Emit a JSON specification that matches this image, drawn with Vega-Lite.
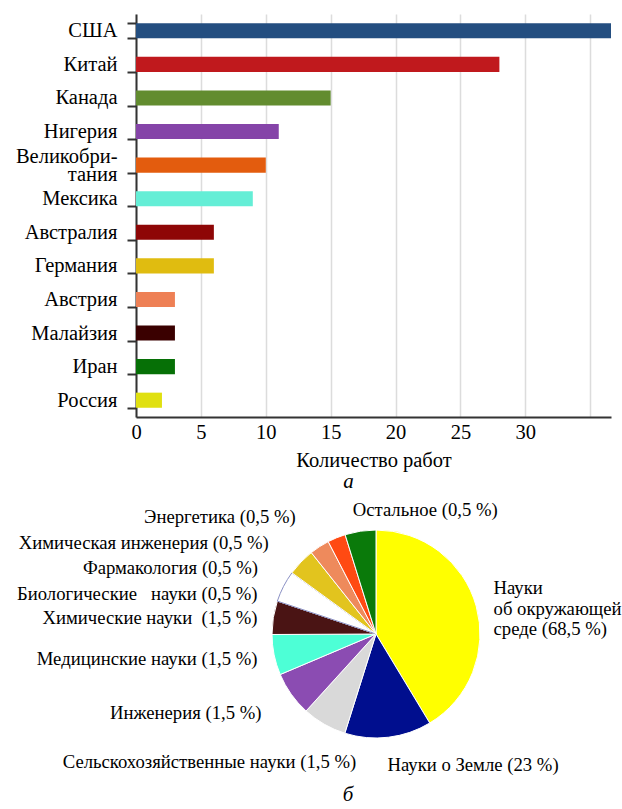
{
  "$schema": "https://vega.github.io/schema/vega-lite/v6.json",
  "background": "white",
  "padding": {"left": 15, "top": 4, "right": 0, "bottom": 0},
  "config": {"view": {"stroke": null}, "text": {"font": "Liberation Serif"}, "title": {"font": "Liberation Serif"}, "axis": {"labelFont": "Liberation Serif", "titleFont": "Liberation Serif"}},
  "bounds": "flush",
  "spacing": 73,
  "resolve": {"scale": {"color": "independent", "theta": "independent"}},
  "vconcat": [
    {
      "width": 475,
      "height": 403,
      "data": {"values": [
        {"country": "США", "count": 37},
        {"country": "Китай", "count": 28},
        {"country": "Канада", "count": 15},
        {"country": "Нигерия", "count": 11},
        {"country": "Великобритания", "count": 10},
        {"country": "Мексика", "count": 9},
        {"country": "Австралия", "count": 6},
        {"country": "Германия", "count": 6},
        {"country": "Австрия", "count": 3},
        {"country": "Малайзия", "count": 3},
        {"country": "Иран", "count": 3},
        {"country": "Россия", "count": 2}
      ]},
      "title": {"text": "а", "orient": "bottom", "font": "Liberation Serif", "fontSize": 21, "fontStyle": "italic", "fontWeight": "normal", "color": "#000", "dx": -25, "offset": 0},
      "mark": {"type": "bar", "clip": true},
      "encoding": {
        "y": {"field": "country", "type": "nominal", "sort": null,
          "scale": {"paddingInner": 0.55, "paddingOuter": 0.275},
          "axis": {"title": null, "labelFont": "Liberation Serif", "labelFontSize": 20.5, "labelColor": "#000", "labelPadding": 10,
            "tickBand": "extent", "tickSize": 9, "tickColor": "#333", "tickWidth": 2, "domainColor": "#333", "domainWidth": 2,
            "labelLineHeight": 18,
            "labelOffset": {"condition": {"test": "datum.value == 'Великобритания'", "value": -9}, "value": 0},
            "labelExpr": "datum.value == 'Великобритания' ? ['Великобри-', 'тания'] : datum.value"}},
        "x": {"field": "count", "type": "quantitative",
          "scale": {"domain": [0, 36.6], "nice": false},
          "axis": {"values": [0, 5, 10, 15, 20, 25, 30, 35], "labelExpr": "datum.value == 35 ? '' : datum.label",
            "ticks": false, "grid": true, "gridColor": "#dcdcdc", "gridWidth": 1.5,
            "domainColor": "#333", "domainWidth": 2,
            "labelFont": "Liberation Serif", "labelFontSize": 20.5, "labelColor": "#000", "labelPadding": 5, "labelFlush": false,
            "title": "Количество работ", "titleFont": "Liberation Serif", "titleFontSize": 20.5, "titleFontWeight": "normal", "titleColor": "#000", "titlePadding": 8}},
        "color": {"field": "country", "type": "nominal", "legend": null,
          "scale": {"domain": ["США", "Китай", "Канада", "Нигерия", "Великобритания", "Мексика", "Австралия", "Германия", "Австрия", "Малайзия", "Иран", "Россия"],
            "range": ["#244e80", "#c0191d", "#628c2f", "#8544a8", "#e35c0e", "#64eed6", "#8e0606", "#e0bc10", "#ee8055", "#3a0000", "#067006", "#e0e010"]}}
      }
    },
    {
      "width": 480,
      "height": 288,
      "data": {"values": [
        {"idx": 1, "field": "Науки об окружающей среде", "label": "Науки\nоб окружающей\nсреде (68,5 %)", "share": 41.4},
        {"idx": 2, "field": "Науки о Земле", "label": "Науки о Земле (23 %)", "share": 13.5},
        {"idx": 3, "field": "Сельскохозяйственные науки", "label": "Сельскохозяйственные науки (1,5 %)", "share": 6.9},
        {"idx": 4, "field": "Инженерия", "label": "Инженерия (1,5 %)", "share": 6.9},
        {"idx": 5, "field": "Медицинские науки", "label": "Медицинские науки (1,5 %)", "share": 6.3},
        {"idx": 6, "field": "Химические науки", "label": "Химические науки\u00a0 (1,5 %)", "share": 5.2},
        {"idx": 7, "field": "Биологические науки", "label": "Биологические\u00a0\u00a0 науки (0,5 %)", "share": 4.9},
        {"idx": 8, "field": "Фармакология", "label": "Фармакология (0,5 %)", "share": 4.3},
        {"idx": 9, "field": "Химическая инженерия", "label": "Химическая инженерия (0,5 %)", "share": 3.1},
        {"idx": 10, "field": "Энергетика", "label": "Энергетика (0,5 %)", "share": 2.8},
        {"idx": 11, "field": "Остальное", "label": "Остальное (0,5 %)", "share": 4.8}
      ]},
      "title": {"text": "б", "orient": "bottom", "font": "Liberation Serif", "fontSize": 21, "fontStyle": "italic", "fontWeight": "normal", "color": "#000", "dx": -28, "offset": -3},
      "encoding": {
        "theta": {"field": "share", "type": "quantitative", "stack": true},
        "order": {"field": "idx", "type": "quantitative"}
      },
      "layer": [
        {
          "mark": {"type": "arc", "outerRadius": 104, "strokeWidth": 1},
          "encoding": {
            "color": {"field": "field", "type": "nominal", "legend": null,
              "scale": {"domain": ["Науки об окружающей среде", "Науки о Земле", "Сельскохозяйственные науки", "Инженерия", "Медицинские науки", "Химические науки", "Биологические науки", "Фармакология", "Химическая инженерия", "Энергетика", "Остальное"],
                "range": ["#ffff00", "#000e8e", "#d9d9d9", "#8b4cb2", "#4dffd6", "#4a1414", "#ffffff", "#e2c41e", "#ee8a5c", "#ff4a12", "#0a7a0a"]}},
            "stroke": {"condition": {"test": "datum.idx == 7", "value": "#8a90c4"}, "value": "#ffffff"},
            "strokeDash": {"condition": {"test": "datum.idx == 7", "value": [2, 2]}, "value": [1, 0]}
          }
        },
        {"mark": {"type": "text", "font": "Liberation Serif", "radius": 122, "align": "left", "baseline": "middle", "dx": 0, "dy": -13, "lineBreak": "\n", "lineHeight": 20.5, "fontSize": 18.7, "color": "#000"},
         "encoding": {"detail": {"field": "field"}, "text": {"condition": {"test": "datum.idx == 1", "field": "label"}, "value": ""}}},
        {"mark": {"type": "text", "font": "Liberation Serif", "radius": 122, "align": "left", "baseline": "middle", "dx": -3, "dy": 10, "fontSize": 18.7, "color": "#000"},
         "encoding": {"detail": {"field": "field"}, "text": {"condition": {"test": "datum.idx == 2", "field": "label"}, "value": ""}}},
        {"mark": {"type": "text", "font": "Liberation Serif", "radius": 122, "align": "right", "baseline": "middle", "dx": 41, "dy": 22, "fontSize": 18.7, "color": "#000"},
         "encoding": {"detail": {"field": "field"}, "text": {"condition": {"test": "datum.idx == 3", "field": "label"}, "value": ""}}},
        {"mark": {"type": "text", "font": "Liberation Serif", "radius": 122, "align": "right", "baseline": "middle", "dx": -15, "dy": 8, "fontSize": 18.7, "color": "#000"},
         "encoding": {"detail": {"field": "field"}, "text": {"condition": {"test": "datum.idx == 4", "field": "label"}, "value": ""}}},
        {"mark": {"type": "text", "font": "Liberation Serif", "radius": 122, "align": "right", "baseline": "middle", "dx": 1, "dy": 0, "fontSize": 18.7, "color": "#000"},
         "encoding": {"detail": {"field": "field"}, "text": {"condition": {"test": "datum.idx == 5", "field": "label"}, "value": ""}}},
        {"mark": {"type": "text", "font": "Liberation Serif", "radius": 122, "align": "right", "baseline": "middle", "dx": 2, "dy": 3, "fontSize": 18.7, "color": "#000"},
         "encoding": {"detail": {"field": "field"}, "text": {"condition": {"test": "datum.idx == 6", "field": "label"}, "value": ""}}},
        {"mark": {"type": "text", "font": "Liberation Serif", "radius": 122, "align": "right", "baseline": "middle", "dx": -10, "dy": 16, "fontSize": 18.7, "color": "#000"},
         "encoding": {"detail": {"field": "field"}, "text": {"condition": {"test": "datum.idx == 7", "field": "label"}, "value": ""}}},
        {"mark": {"type": "text", "font": "Liberation Serif", "radius": 122, "align": "right", "baseline": "middle", "dx": -30, "dy": 18, "fontSize": 18.7, "color": "#000"},
         "encoding": {"detail": {"field": "field"}, "text": {"condition": {"test": "datum.idx == 8", "field": "label"}, "value": ""}}},
        {"mark": {"type": "text", "font": "Liberation Serif", "radius": 122, "align": "right", "baseline": "middle", "dx": -41, "dy": 11, "fontSize": 18.7, "color": "#000"},
         "encoding": {"detail": {"field": "field"}, "text": {"condition": {"test": "datum.idx == 9", "field": "label"}, "value": ""}}},
        {"mark": {"type": "text", "font": "Liberation Serif", "radius": 122, "align": "right", "baseline": "middle", "dx": -34, "dy": -4, "fontSize": 18.7, "color": "#000"},
         "encoding": {"detail": {"field": "field"}, "text": {"condition": {"test": "datum.idx == 10", "field": "label"}, "value": ""}}},
        {"mark": {"type": "text", "font": "Liberation Serif", "radius": 122, "align": "left", "baseline": "middle", "dx": -5, "dy": -3, "fontSize": 18.7, "color": "#000"},
         "encoding": {"detail": {"field": "field"}, "text": {"condition": {"test": "datum.idx == 11", "field": "label"}, "value": ""}}}
      ]
    }
  ]
}
